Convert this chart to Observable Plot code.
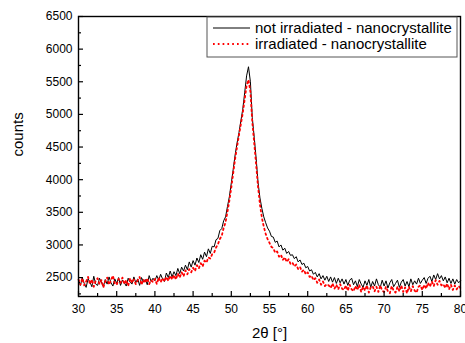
<!DOCTYPE html>
<html>
<head>
<meta charset="utf-8">
<script src="https://cdn.jsdelivr.net/npm/d3@7"></script>
<script src="https://cdn.jsdelivr.net/npm/@observablehq/plot@0.6"></script>
<style>
  html, body { margin: 0; padding: 0; background: #fff; }
  #chart { width: 465px; height: 343px; overflow: hidden; }
</style>
</head>
<body>
<div id="chart"></div>
<script>
// sampling grid of the diffractogram (2θ in degrees)
const xStart = 30;
const xStep = 0.25;

// counts, not irradiated - nanocrystallite
const notIrradiated = [
  2470, 2380, 2500, 2410, 2350, 2480, 2430, 2360, 2520, 2400,
  2380, 2490, 2430, 2360, 2470, 2400, 2510, 2420, 2370, 2480,
  2410, 2500, 2380, 2460, 2420, 2370, 2490, 2430, 2400, 2510,
  2420, 2480, 2380, 2500, 2430, 2470, 2390, 2530, 2440, 2490,
  2450, 2530, 2460, 2550, 2480, 2440, 2570, 2500, 2600, 2510,
  2590, 2530, 2640, 2560, 2660, 2600, 2690, 2620, 2740, 2660,
  2760, 2690, 2800, 2730, 2850, 2780, 2890, 2820, 2940, 2870,
  2980, 2970, 3080, 3100, 3220, 3250, 3370, 3430, 3590, 3740,
  3950, 4160, 4380, 4560, 4720, 4900, 5080, 5330, 5590, 5730,
  5500, 4950, 4650, 4330, 3960, 3720, 3560, 3430, 3340, 3260,
  3210, 3130, 3120, 3040, 3060, 2970, 3000, 2920, 2950, 2870,
  2900, 2840, 2850, 2790, 2820, 2740, 2770, 2700, 2720, 2650,
  2670, 2600, 2620, 2550, 2580, 2510, 2560, 2480, 2530, 2460,
  2520, 2440, 2510, 2430, 2500, 2410, 2490, 2420, 2480, 2400,
  2470, 2380, 2460, 2490, 2390, 2450, 2360, 2470, 2400, 2350,
  2450, 2380, 2470, 2350, 2440, 2370, 2480, 2390, 2350, 2460,
  2370, 2450, 2340, 2420, 2470, 2360, 2410, 2460, 2350, 2430,
  2470, 2370, 2440, 2360, 2480, 2390, 2450, 2400, 2490, 2410,
  2460, 2500, 2410, 2490, 2520, 2440, 2540, 2470, 2560, 2480,
  2530, 2450, 2510, 2420, 2490, 2410, 2480, 2400, 2470, 2420,
  2450
];

// counts, irradiated - nanocrystallite
const irradiated = [
  2470, 2390, 2490, 2380, 2440, 2510, 2400, 2470, 2360, 2450,
  2490, 2400, 2460, 2350, 2440, 2500, 2390, 2460, 2530, 2410,
  2390, 2480, 2420, 2500, 2400, 2460, 2370, 2490, 2420, 2470,
  2400, 2460, 2510, 2390, 2470, 2420, 2490, 2400, 2460, 2430,
  2480, 2400, 2500, 2430, 2490, 2440, 2510, 2450, 2530, 2470,
  2540, 2470, 2560, 2500, 2580, 2520, 2610, 2550, 2630, 2580,
  2650, 2600, 2690, 2640, 2720, 2670, 2760, 2730, 2810, 2790,
  2860, 2880, 2960, 3010, 3090, 3140, 3260, 3350, 3510, 3680,
  3880, 4100, 4320, 4500, 4680, 4850, 5020, 5230, 5440, 5530,
  5350, 4880, 4560, 4230, 3890, 3620, 3420, 3280, 3170, 3090,
  3030, 2970, 2950, 2880, 2900, 2820, 2850, 2770, 2810, 2740,
  2780, 2710, 2730, 2670, 2700, 2630, 2660, 2590, 2620, 2550,
  2580, 2510, 2530, 2460, 2490, 2420, 2470, 2390, 2440, 2370,
  2400, 2380, 2340, 2410, 2330, 2390, 2320, 2400, 2330, 2310,
  2380, 2300, 2390, 2320, 2290, 2370, 2310, 2390, 2280, 2360,
  2300, 2380, 2270, 2350, 2370, 2290, 2360, 2280, 2380, 2300,
  2280, 2360, 2290, 2260, 2370, 2300, 2270, 2360, 2290, 2380,
  2280, 2350, 2260, 2360, 2290, 2370, 2300, 2270, 2360, 2380,
  2310, 2390, 2330, 2420, 2360, 2440, 2370, 2460, 2390, 2450,
  2380, 2400, 2340, 2410, 2320, 2390, 2310, 2380, 2320, 2370,
  2340
];

const seriesNames = ["not irradiated - nanocrystallite", "irradiated - nanocrystallite"];
const xDomain = [30, 80];
const yDomain = [2210, 6500];
const xTicks = [30, 35, 40, 45, 50, 55, 60, 65, 70, 75, 80];
const xMinorTicks = [32.5, 37.5, 42.5, 47.5, 52.5, 57.5, 62.5, 67.5, 72.5, 77.5];
const yTicks = [2500, 3000, 3500, 4000, 4500, 5000, 5500, 6000, 6500];
const yMinorTicks = [2250, 2750, 3250, 3750, 4250, 4750, 5250, 5750, 6250];
const xLabel = "2θ [°]";
const yLabel = "counts";

const toRows = (vals) => vals.map((v, i) => ({x: xStart + i * xStep, y: v}));
const blackRows = toRows(notIrradiated);
const redRows = toRows(irradiated);

const W = 465, H = 343;
const mL = 78, mR = 5, mT = 16, mB = 47;
const innerW = W - mL - mR, innerH = H - mT - mB;
const font = "'Liberation Sans', Arial, Helvetica, sans-serif";
const redDash = "1.7,3.1";

const chart = Plot.plot({
  width: W,
  height: H,
  marginLeft: mL,
  marginRight: mR,
  marginTop: mT,
  marginBottom: mB,
  style: {fontFamily: font, fontSize: "12px", background: "#fff", color: "#000"},
  x: {domain: xDomain},
  y: {domain: yDomain},
  marks: [
    Plot.line(blackRows, {x: "x", y: "y", stroke: "#000", strokeWidth: 1}),
    Plot.line(redRows, {x: "x", y: "y", stroke: "#ff0000", strokeWidth: 1.8, strokeDasharray: redDash}),
    Plot.frame({stroke: "#000", strokeWidth: 1.4}),
    Plot.ruleX(xTicks, {x: d => d, stroke: "#000", strokeWidth: 1.2, insetTop: innerH - 5}),
    Plot.ruleX(xMinorTicks, {x: d => d, stroke: "#000", strokeWidth: 1.2, insetTop: innerH - 3}),
    Plot.ruleY(yTicks, {y: d => d, stroke: "#000", strokeWidth: 1.2, insetRight: innerW - 5}),
    Plot.ruleY(yMinorTicks, {y: d => d, stroke: "#000", strokeWidth: 1.2, insetRight: innerW - 3}),
    Plot.axisX({ticks: xTicks, tickSize: 0, tickPadding: 8, label: null, fontSize: 12, tickFormat: d => String(d)}),
    Plot.axisY({ticks: yTicks, tickSize: 0, tickPadding: 6, label: null, fontSize: 12, tickFormat: d => String(d)}),
    Plot.text([xLabel], {text: d => d, frameAnchor: "bottom", dy: 37, fontSize: 15, lineAnchor: "middle", fill: "#000"}),
    Plot.text([yLabel], {text: d => d, frameAnchor: "left", dx: -60, fontSize: 15, rotate: -90, lineAnchor: "middle", fill: "#000"})
  ]
});

document.getElementById("chart").appendChild(chart);

// legend box inside the frame (top right)
const svg = d3.select(chart);
const lg = svg.append("g").attr("font-family", font).attr("font-size", 15).attr("text-anchor", "start");
lg.append("rect").attr("x", 207).attr("y", 17).attr("width", 250).attr("height", 40)
  .attr("fill", "#fff").attr("stroke", "#555").attr("stroke-width", 1);
const rowsY = [28, 44];
lg.append("line").attr("x1", 213).attr("x2", 250).attr("y1", rowsY[0]).attr("y2", rowsY[0])
  .attr("stroke", "#000").attr("stroke-width", 1);
lg.append("line").attr("x1", 213).attr("x2", 250).attr("y1", rowsY[1]).attr("y2", rowsY[1])
  .attr("stroke", "#ff0000").attr("stroke-width", 1.8).attr("stroke-dasharray", redDash);
seriesNames.forEach((name, i) => {
  lg.append("text").attr("x", 255).attr("y", rowsY[i]).attr("dy", "0.35em")
    .attr("text-anchor", "start").attr("fill", "#000").text(name);
});
</script>
</body>
</html>
